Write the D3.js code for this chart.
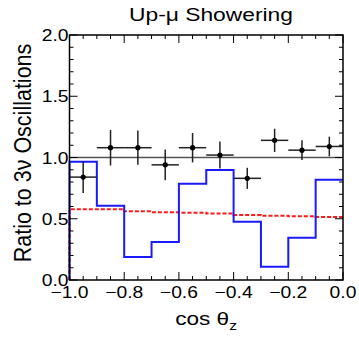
<!DOCTYPE html>
<html>
<head>
<meta charset="utf-8">
<script src="https://cdn.jsdelivr.net/npm/d3@7"></script>
<style>
  body { margin: 0; background: #fff; }
  svg { font-family: "Liberation Sans", Arial, sans-serif; }
</style>
</head>
<body>
<svg id="chart" width="359" height="339"></svg>
<script>
// bin lower edges in cos(theta_z)
const binEdges = [-1.0, -0.9, -0.8, -0.7, -0.6, -0.5, -0.4, -0.3, -0.2, -0.1, 0.0];

// data / 3-flavour prediction
const dataRatio = [0.84, 1.08, 1.08, 0.94, 1.08, 1.02, 0.83, 1.14, 1.06, 1.09];
const dataError = [0.13, 0.145, 0.14, 0.125, 0.12, 0.11, 0.086, 0.095, 0.08, 0.08];

// solid blue histogram
const blueHist = [0.966, 0.607, 0.188, 0.31, 0.786, 0.898, 0.476, 0.109, 0.345, 0.819];
// red dashed histogram
const redHist = [0.577, 0.577, 0.561, 0.553, 0.55, 0.542, 0.531, 0.525, 0.52, 0.514];

const xTicks = [-1.0, -0.8, -0.6, -0.4, -0.2, 0.0];
const yTicks = [0.0, 0.5, 1.0, 1.5, 2.0];

const margin = {left: 69.5, right: 16, top: 35, bottom: 59};
const width = 359, height = 339;
const innerWidth = width - margin.left - margin.right;
const innerHeight = height - margin.top - margin.bottom;

// the original text is a bit wide for its height
const stretch = 1.17;

const svg = d3.select('#chart');
const g = svg.append('g')
    .attr('transform', `translate(${margin.left}, ${margin.top})`);

const xScale = d3.scaleLinear().domain([-1, 0]).range([0, innerWidth]);
const yScale = d3.scaleLinear().domain([0, 2]).range([innerHeight, 0]);

// step path for a histogram, starting on the axis at the left edge
function stepPath(values) {
    const p = d3.path();
    p.moveTo(xScale(binEdges[0]), yScale(0));
    values.forEach((v, i) => {
        p.lineTo(xScale(binEdges[i]), yScale(v));
        p.lineTo(xScale(binEdges[i + 1]), yScale(v));
    });
    return p.toString();
}

// reference line at 1
g.append('line')
    .attr('x1', 0).attr('x2', innerWidth)
    .attr('y1', yScale(1)).attr('y2', yScale(1))
    .style('stroke', '#555').style('stroke-width', 1.5);

g.append('path')
    .attr('d', stepPath(redHist))
    .attr('fill', 'none')
    .attr('stroke', '#ff1a1a')
    .attr('stroke-width', 2)
    .attr('stroke-dasharray', '4,2');

g.append('path')
    .attr('d', stepPath(blueHist))
    .attr('fill', 'none')
    .attr('stroke', '#1a1aff')
    .attr('stroke-width', 2);

// data points with error bars
const pts = dataRatio.map((v, i) => ({lo: binEdges[i], hi: binEdges[i + 1], v, e: dataError[i]}));

const pg = g.selectAll('.pt').data(pts).join('g').classed('pt', true);
pg.append('line')
    .attr('x1', d => xScale(d.lo)).attr('x2', d => xScale(d.hi))
    .attr('y1', d => yScale(d.v)).attr('y2', d => yScale(d.v))
    .style('stroke', '#222').style('stroke-width', 1.5);
pg.append('line')
    .attr('x1', d => xScale((d.lo + d.hi) / 2)).attr('x2', d => xScale((d.lo + d.hi) / 2))
    .attr('y1', d => yScale(d.v - d.e)).attr('y2', d => yScale(d.v + d.e))
    .style('stroke', '#222').style('stroke-width', 1.5);
pg.append('circle')
    .attr('cx', d => xScale((d.lo + d.hi) / 2))
    .attr('cy', d => yScale(d.v))
    .attr('r', 2.6)
    .style('fill', '#000');

// frame
g.append('rect')
    .attr('width', innerWidth).attr('height', innerHeight)
    .attr('fill', 'none').attr('stroke', '#000').attr('stroke-width', 1.5);

// inward ticks, all four sides
const xMinor = d3.range(0, 21).map(i => -1 + i * 0.05);
const yMinor = d3.range(0, 21).map(i => i * 0.1);
const isMajor = (v, step) => Math.abs(v / step - Math.round(v / step)) < 1e-6;

const tickG = g.append('g').style('stroke', '#000').style('stroke-width', 1);
xMinor.forEach(v => {
    const len = isMajor(v, 0.2) ? 8 : 4;
    const x = xScale(v);
    tickG.append('line').attr('x1', x).attr('x2', x).attr('y1', innerHeight).attr('y2', innerHeight - len);
    tickG.append('line').attr('x1', x).attr('x2', x).attr('y1', 0).attr('y2', len);
});
yMinor.forEach(v => {
    const len = isMajor(v, 0.5) ? 8 : 4;
    const y = yScale(v);
    tickG.append('line').attr('x1', 0).attr('x2', len).attr('y1', y).attr('y2', y);
    tickG.append('line').attr('x1', innerWidth).attr('x2', innerWidth - len).attr('y1', y).attr('y2', y);
});

// tick labels
g.selectAll('.xlab').data(xTicks).join('text')
    .classed('xlab', true)
    .attr('transform', d => `translate(${xScale(d)}, ${innerHeight + 18}) scale(${stretch}, 1)`)
    .attr('text-anchor', 'middle')
    .style('font-size', '16.5px')
    .text(d => d3.format('.1f')(d));

g.selectAll('.ylab').data(yTicks).join('text')
    .classed('ylab', true)
    .attr('transform', d => `translate(-1, ${yScale(d) + 6}) scale(${stretch}, 1)`)
    .attr('text-anchor', 'end')
    .style('font-size', '16.5px')
    .text(d => d3.format('.1f')(d));

// titles
svg.append('text')
    .attr('transform', `translate(211, 21) scale(1.2, 1)`)
    .attr('text-anchor', 'middle')
    .style('font-size', '19px')
    .text('Up-μ Showering');

const xt = svg.append('text')
    .attr('transform', `translate(206, 325) scale(1.19, 1)`)
    .attr('text-anchor', 'middle')
    .style('font-size', '19px');
xt.append('tspan').text('cos θ');
xt.append('tspan').attr('dy', 5).style('font-size', '13px').text('z');

svg.append('text')
    .attr('transform', 'translate(31, 153) rotate(-90) scale(1, 1.15)')
    .attr('text-anchor', 'middle')
    .style('font-size', '21.5px')
    .text('Ratio to 3ν Oscillations');
</script>
</body>
</html>
